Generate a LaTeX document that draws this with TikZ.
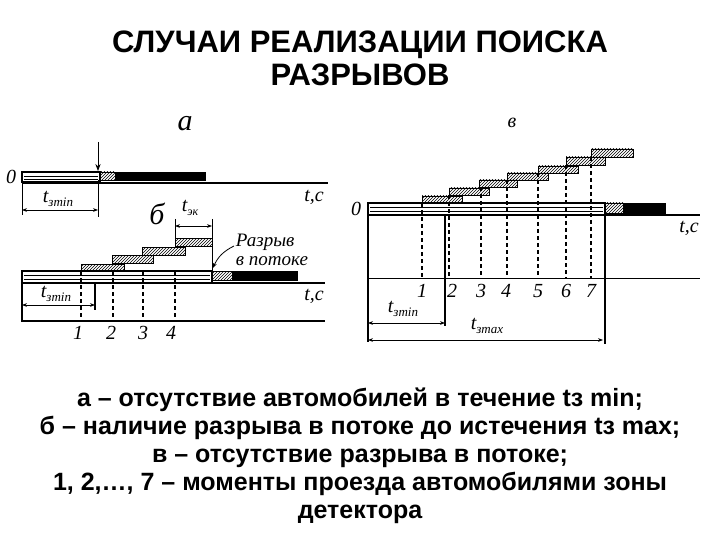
\documentclass[tikz,border=0pt]{standalone}
\usepackage{fontspec}
\setmainfont{Liberation Sans}
\newfontfamily\ser{Liberation Serif}
\usetikzlibrary{patterns,arrows.meta}
\begin{document}
\begin{tikzpicture}[x=1pt,y=-1pt,
  hat/.style={draw,line width=0.9pt,pattern=north east lines},
  blk/.style={fill=black,draw},
  bar/.style={draw,line width=1.2pt},
  ax/.style={line width=1.2pt},
  dsh/.style={line width=1.1pt,dash pattern=on 4pt off 3pt},
  dim/.style={{Stealth[length=5pt]}-{Stealth[length=5pt]},line width=0.8pt},
  lab/.style={font=\ser\itshape\fontsize{20}{20}\selectfont,inner sep=0pt},
  num/.style={font=\ser\itshape\fontsize{20}{20}\selectfont,inner sep=0pt},
  ttl/.style={font=\bfseries\fontsize{31}{31}\selectfont,inner sep=0pt,anchor=base},
  captxt/.style={font=\bfseries\fontsize{25}{25}\selectfont,inner sep=0pt,anchor=base}]
\useasboundingbox (0,0) rectangle (720,540);
\fill[white] (0,0) rectangle (720,540);
% title
\node[ttl] (t1) at (360,53) {СЛУЧАИ РЕАЛИЗАЦИИ ПОИСКА};
\node[ttl] (t2) at (360,86) {РАЗРЫВОВ};
% ---------- a
\node[num,font=\ser\itshape\fontsize{30}{30}\selectfont] (la) at (185,124) {а};
\node[num] (z1) at (11,177) {0};
\draw[bar] (22,172) rectangle (100,182);
\draw[thin] (24,176) -- (98,176) (24,179) -- (98,179);
\draw[hat] (100,172) rectangle (115,180);
\draw[blk] (115,172) rectangle (205,180);
\draw[ax] (22,183) -- (328,183);
\node[lab] (tc1) at (314,197) {t,c};
\draw[-{Stealth[length=7pt]},line width=0.9pt] (98,142) -- (98,171);
\draw[line width=0.9pt] (22,172) -- (22,215) (98,180) -- (98,217);
\draw[dim] (22,210) -- (98,210);
\node[lab] (tm1) at (58,199) {t\raisebox{-0.4ex}{\fontsize{13}{13}\selectfont зmin}};
% ---------- б
\node[num,font=\ser\itshape\fontsize{30}{30}\selectfont] (lb) at (157,214) {б};
\node[lab] (tek) at (190,208) {t\raisebox{-0.4ex}{\fontsize{12}{12}\selectfont эк}};
\draw[line width=0.9pt] (175,219) -- (175,238) (212,219) -- (212,270);
\draw[dim] (175,226) -- (212,226);
\draw[hat] (81,264) rectangle (124,271);
\draw[hat] (112,255) rectangle (153,263);
\draw[hat] (142,247) rectangle (185,255);
\draw[hat] (175,238) rectangle (212,246);
\draw[bar] (22,271) rectangle (212,283);
\draw[thin] (24,275) -- (210,275) (24,279) -- (210,279);
\draw[hat] (212,271) rectangle (232,280);
\draw[blk] (232,271) rectangle (297,280);
\draw[ax] (22,283) -- (325,283);
\node[lab] (tc2) at (314,296) {t,c};
\node[lab,align=left,font=\ser\itshape\fontsize{19}{19}\selectfont] (raz) at (272,250) {Разрыв\\в потоке};
\draw[-{Stealth[length=5pt]},line width=0.8pt] (234,246) to[bend right=20] (213,268);
\draw[line width=1.1pt] (22,283) -- (22,322) (95,283) -- (95,310);
\draw[ax] (22,321) -- (325,321);
\foreach \x/\n in {81/1,113/2,143/3,175/4}{
  \draw[dsh] (\x,271) -- (\x,321);}
\foreach \x/\n in {78/1,111/2,143/3,171/4}{
  \node[num] (nb\n) at (\x,333) {\n};}
\draw[dim] (22,305) -- (95,305);
\node[lab] (tm2) at (56,294) {t\raisebox{-0.4ex}{\fontsize{13}{13}\selectfont зmin}};
% ---------- в
\node[num,font=\ser\itshape\fontsize{20}{20}\selectfont] (lc) at (512,123) {в};
\node[num] (z3) at (356,209) {0};
\draw[hat] (422,196) rectangle (462,203);
\draw[hat] (449,188) rectangle (489,195);
\draw[hat] (479,180) rectangle (517,187);
\draw[hat] (507,173) rectangle (548,180);
\draw[hat] (538,166) rectangle (578,173);
\draw[hat] (566,157) rectangle (605,165);
\draw[hat] (591,149) rectangle (633,157);
\draw[bar] (368,203) rectangle (605,215);
\draw[thin] (370,207) -- (603,207) (370,211) -- (603,211);
\draw[hat] (605,203) rectangle (623,213);
\draw[blk] (623,203) rectangle (665,213);
\draw[ax] (605,215) -- (700,215);
\node[lab] (tc3) at (689,228) {t,c};
\draw[line width=1.1pt] (368,215) -- (368,342) (445,215) -- (445,326) (605,215) -- (605,344);
\draw[line width=0.9pt] (368,278) -- (700,278);
\foreach \x/\y/\n in {422/203/1,449/195/2,481/187/3,507/180/4,538/173/5,566/165/6,591/157/7}{
  \draw[dsh] (\x,\y) -- (\x,278);}
\foreach \x/\n in {422/1,452/2,481/3,506/4,538/5,566/6,591/7}{
  \node[num] (nc\n) at (\x,291) {\n};}
\draw[dim] (368,323) -- (445,323);
\node[lab] (tm3) at (403,309) {t\raisebox{-0.4ex}{\fontsize{13}{13}\selectfont зmin}};
\draw[dim] (368,340) -- (603,340);
\node[lab] (tx3) at (487,326) {t\raisebox{-0.4ex}{\fontsize{13}{13}\selectfont зmax}};
% caption
\node[captxt] (c1) at (360,406) {а – отсутствие автомобилей в течение tз min;};
\node[captxt] (c2) at (360,434) {б – наличие разрыва в потоке до истечения tз max;};
\node[captxt] (c3) at (360,462) {в – отсутствие разрыва в потоке;};
\node[captxt] (c4) at (360,490) {1, 2,…, 7 – моменты проезда автомобилями зоны};
\node[captxt] (c5) at (360,518) {детектора};
\end{tikzpicture}
\end{document}
